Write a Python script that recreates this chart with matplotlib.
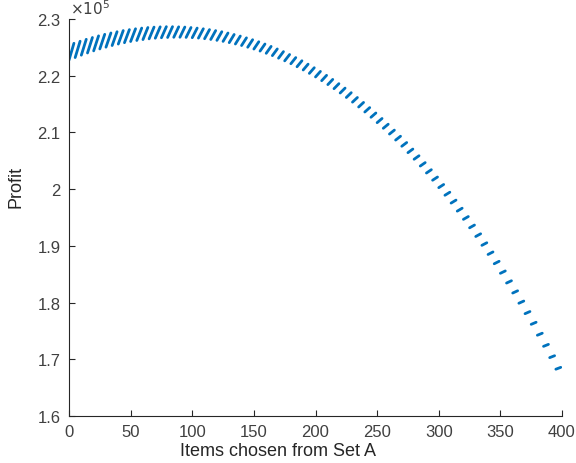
import matplotlib.pyplot as plt

plt.rcParams['font.family'] = ['Liberation Sans', 'DejaVu Sans']

# each short dash in the chart = one run of items from Set A
# (first item of the run, last item of the run, profit at both ends)
run_first_item = list(range(0, 400, 5))
run_last_item = [a + 4 for a in run_first_item]

profit_run_start = [
    222750, 223200, 223620, 224010, 224380, 224720, 225030, 225320, 225580, 225820,
    226030, 226210, 226370, 226500, 226610, 226690, 226740, 226770, 226780, 226750,
    226700, 226630, 226520, 226390, 226230, 226050, 225830, 225590, 225320, 225020,
    224700, 224340, 223950, 223540, 223090, 222620, 222110, 221580, 221010, 220410,
    219780, 219120, 218430, 217710, 216950, 216160, 215340, 214480, 213600, 212670,
    211720, 210730, 209710, 208650, 207560, 206430, 205270, 204070, 202840, 201570,
    200260, 198920, 197540, 196120, 194670, 193180, 191650, 190090, 188480, 186840,
    185160, 183440, 181680, 179880, 178040, 176160, 174240, 172280, 170290, 168250,
]
profit_run_end = [
    225720, 226080, 226420, 226740, 227030, 227300, 227540, 227760, 227960, 228130,
    228280, 228400, 228500, 228570, 228620, 228650, 228650, 228620, 228580, 228500,
    228400, 228280, 228130, 227960, 227760, 227530, 227270, 226990, 226680, 226350,
    225990, 225590, 225170, 224720, 224250, 223740, 223200, 222640, 222040, 221410,
    220760, 220070, 219350, 218600, 217820, 217010, 216160, 215290, 214380, 213430,
    212460, 211450, 210410, 209330, 208220, 207070, 205890, 204680, 203430, 202140,
    200820, 199460, 198070, 196640, 195170, 193670, 192130, 190550, 188930, 187280,
    185580, 183850, 182080, 180270, 178420, 176530, 174600, 172630, 170630, 168580,
]

x_ticks = [0, 50, 100, 150, 200, 250, 300, 350, 400]
y_ticks = [160000, 170000, 180000, 190000, 200000, 210000, 220000, 230000]
y_tick_labels = ['1.6', '1.7', '1.8', '1.9', '2', '2.1', '2.2', '2.3']

fig = plt.figure(figsize=(5.76, 4.64), dpi=100)
ax = fig.add_axes([69 / 576, 47 / 464, 493 / 576, 397 / 464])

col = '#0072BD'
for a0, a1, p0, p1 in zip(run_first_item, run_last_item, profit_run_start, profit_run_end):
    ax.plot([a0, a1], [p0, p1], color=col, lw=2.0, solid_capstyle='round')

ax.set_xlim(0, 400)
ax.set_ylim(160000, 230000)
ax.set_xticks(x_ticks)
ax.set_yticks(y_ticks)
ax.set_yticklabels(y_tick_labels)
for sp in ['top', 'right']:
    ax.spines[sp].set_visible(False)
for sp in ['left', 'bottom']:
    ax.spines[sp].set_color('#262626')
    ax.spines[sp].set_linewidth(0.8)
ax.tick_params(direction='in', length=4, width=0.8, colors='#262626',
               labelsize=12, labelcolor='#404040', pad=6)
ax.text(0.003, 1.004, r'$\times10^5$', transform=ax.transAxes, fontsize=11,
        color='#404040', va='bottom')
ax.set_xlabel('Items chosen from Set A', fontsize=13, color='#262626')
ax.set_ylabel('Profit', fontsize=13, color='#262626')
ax.xaxis.set_label_coords(0.424, -0.065)
ax.yaxis.set_label_coords(-0.09, 0.58)

fig.savefig('out.png', dpi=100)
